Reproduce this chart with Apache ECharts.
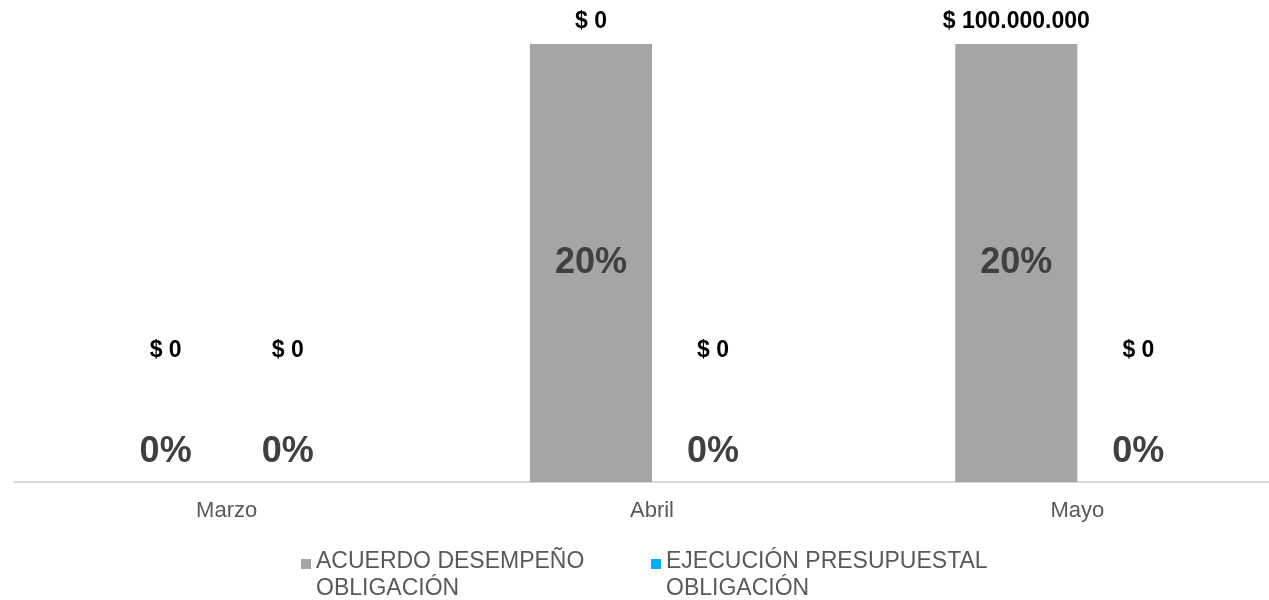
<!DOCTYPE html>
<html>
<head>
<meta charset="utf-8">
<script src="https://cdn.jsdelivr.net/npm/echarts@6/dist/echarts.min.js"></script>
<style>
  html, body { margin: 0; padding: 0; background: #fff; }
  #chart { width: 1269px; height: 600px; }
</style>
</head>
<body>
<div id="chart"></div>
<script>
// datos del gráfico
const meses = ['Marzo', 'Abril', 'Mayo']
const acuerdoPct = [0, 20, 20]
const ejecucionPct = [0, 0, 0]
const acuerdoValor = ['$ 0', '$ 0', '$ 100.000.000']
const ejecucionValor = ['$ 0', '$ 0', '$ 0']

const nombreAcuerdo = 'ACUERDO DESEMPEÑO\nOBLIGACIÓN'
const nombreEjecucion = 'EJECUCIÓN PRESUPUESTAL\nOBLIGACIÓN'

const FONT = 'Liberation Sans, Arial, sans-serif'

// cuadrito de la leyenda alineado con la primera línea del texto
const ICONO = 'path://M0,0H10V10H0Z M0,32H10V32H0Z'

// etiqueta de porcentaje: dentro de la barra o encima si es cero
function pctData(values) {
  return values.map(v => ({
    value: v,
    label: v > 0
      ? { position: 'inside' }
      : { position: 'top', distance: 12 }
  }))
}

// etiqueta de valor en pesos sobre la barra
function valorData(values, textos) {
  return values.map((v, i) => ({
    value: v,
    label: { position: 'top', distance: v > 0 ? 11 : 120, formatter: textos[i] }
  }))
}

const pctLabel = {
  show: true,
  formatter: '{c}%',
  fontFamily: FONT,
  fontSize: 36,
  fontWeight: 'bold',
  color: '#404040'
}

const valorLabel = {
  show: true,
  fontFamily: FONT,
  fontSize: 23,
  fontWeight: 'bold',
  color: '#000'
}

const legendText = {
  fontFamily: FONT,
  fontSize: 23,
  color: '#595959',
  lineHeight: 27
}

const chart = echarts.init(document.getElementById('chart'))

chart.setOption({
  animation: false,
  grid: { left: 14, width: 1276, top: 44, bottom: 118, outerBoundsMode: 'none', containLabel: false },
  legend: [
    {
      data: [nombreAcuerdo],
      left: 301, top: 548, padding: 0,
      icon: ICONO, itemWidth: 10, itemHeight: 32,
      textStyle: legendText
    },
    {
      data: [nombreEjecucion],
      left: 651, top: 548, padding: 0,
      icon: ICONO, itemWidth: 10, itemHeight: 32,
      textStyle: legendText
    }
  ],
  xAxis: [
    {
      type: 'category',
      data: meses,
      axisLine: { lineStyle: { color: '#D9D9D9', width: 2 } },
      axisTick: { show: false },
      axisLabel: { fontFamily: FONT, fontSize: 22, color: '#595959', margin: 18 }
    },
    {
      type: 'category',
      data: meses,
      show: false
    }
  ],
  yAxis: { type: 'value', min: 0, max: 20, show: false },
  series: [
    {
      name: nombreAcuerdo,
      type: 'bar',
      data: pctData(acuerdoPct),
      barGap: '0%',
      barCategoryGap: '42.6%',
      itemStyle: { color: '#A5A5A5' },
      label: pctLabel
    },
    {
      name: nombreEjecucion,
      type: 'bar',
      data: pctData(ejecucionPct),
      itemStyle: { color: '#00B0F0' },
      label: pctLabel
    },
    {
      name: 'valor-acuerdo',
      type: 'bar',
      xAxisIndex: 1,
      data: valorData(acuerdoPct, acuerdoValor),
      barGap: '0%',
      barCategoryGap: '42.6%',
      itemStyle: { color: 'transparent' },
      label: valorLabel,
      silent: true
    },
    {
      name: 'valor-ejecucion',
      type: 'bar',
      xAxisIndex: 1,
      data: valorData(ejecucionPct, ejecucionValor),
      itemStyle: { color: 'transparent' },
      label: valorLabel,
      silent: true
    }
  ]
})
</script>
</body>
</html>
